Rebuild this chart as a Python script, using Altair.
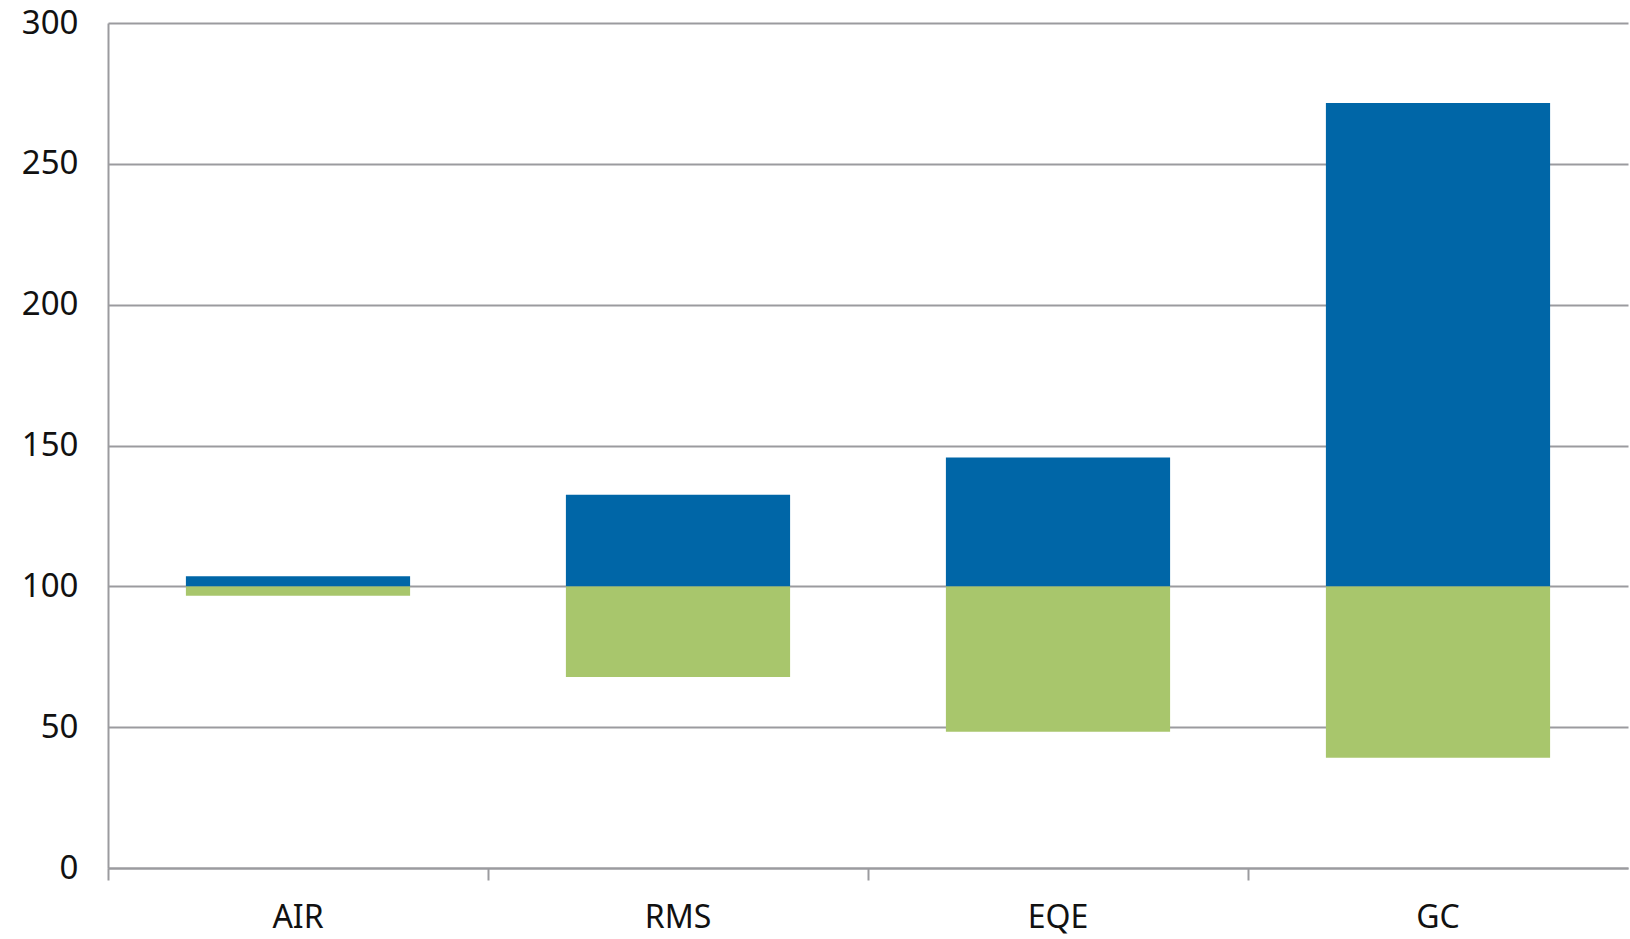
import altair as alt
import pandas as pd

# Floating bars around a baseline of 100
categories = ["AIR", "RMS", "EQE", "GC"]
baseline = [100, 100, 100, 100]
upper = [103.6, 132.5, 145.7, 271.6]
lower = [96.7, 67.8, 48.4, 39.1]

blue = "#0066a7"
green = "#a8c66c"
grid_grey = "#9b9b9f"
font = "Noto Sans"

df = pd.DataFrame({
    "cat": categories,
    "base": baseline,
    "upper": upper,
    "lower": lower,
})

bar_scale = alt.Scale(paddingInner=0.41, paddingOuter=0.205)
step_scale = alt.Scale(paddingInner=0, paddingOuter=0)
y_scale = alt.Scale(domain=[0, 300], nice=False)

y_axis = alt.Axis(
    values=[0, 50, 100, 150, 200, 250, 300],
    grid=True, gridColor=grid_grey, gridWidth=2,
    domain=True, domainColor=grid_grey, domainWidth=2,
    ticks=False, labelPadding=30,
    labelFontSize=33, labelFont=font, labelColor="#111111",
    labelBaseline="middle", title=None,
)

# Axis carrying the category labels
x_axis_labels = alt.Axis(
    orient="bottom", ticks=False, domain=False,
    labelFontSize=32, labelFont=font, labelColor="#111111",
    labelPadding=34, labelAngle=0, title=None,
)

# Axis carrying the boundary ticks between categories
x_axis_ticks = alt.Axis(
    orient="bottom", labels=False, bandPosition=0,
    ticks=True, tickSize=12, tickWidth=2, tickColor=grid_grey,
    domain=True, domainColor=grid_grey, domainWidth=2,
    title=None,
)

boundaries = alt.Chart(df).mark_bar(opacity=0).encode(
    x=alt.X("cat:N", sort=categories, scale=step_scale, axis=x_axis_ticks),
    y=alt.Y("base:Q", scale=y_scale, axis=y_axis),
)

upper_bars = alt.Chart(df).mark_bar(color=blue).encode(
    x=alt.X("cat:N", sort=categories, scale=bar_scale, axis=x_axis_labels),
    y=alt.Y("base:Q", scale=y_scale, axis=y_axis),
    y2="upper:Q",
)

lower_bars = alt.Chart(df).mark_bar(color=green).encode(
    x=alt.X("cat:N", sort=categories, scale=bar_scale, axis=x_axis_labels),
    y=alt.Y("lower:Q", scale=y_scale, axis=y_axis),
    y2="base:Q",
)

bars = alt.layer(lower_bars, upper_bars)

chart = (
    alt.layer(boundaries, bars)
    .resolve_scale(x="independent")
    .resolve_axis(x="independent")
    .properties(
        width=1520,
        height=845,
        autosize=alt.AutoSizeParams(type="none"),
        padding={"left": 108, "top": 23, "right": 2, "bottom": 71},
        background="white",
    )
    .configure_view(stroke=None)
)

chart.save("out.html", embed_options={"renderer": "svg", "actions": False})
